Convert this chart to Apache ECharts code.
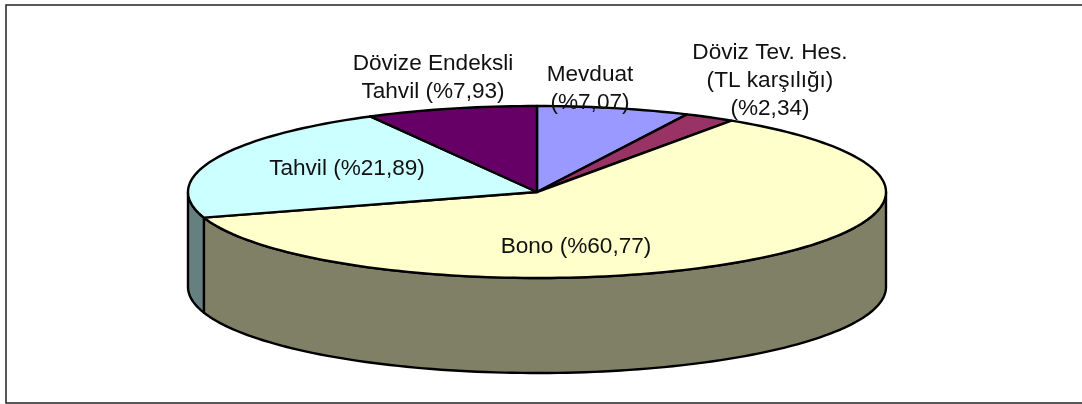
<!DOCTYPE html>
<html>
<head>
<meta charset="utf-8">
<title>Pie</title>
<style>
  html, body { margin: 0; padding: 0; background: #fff; }
  #chart { width: 1082px; height: 404px; }
</style>
<script src="https://cdn.jsdelivr.net/npm/echarts@6/dist/echarts.min.js"></script>
</head>
<body>
<div id="chart"></div>
<script>
// veriler (saat 12 yonunden saat yonunde)
var names = ["Mevduat", "Döviz Tev. Hes.\n(TL karşılığı)", "Bono", "Tahvil", "Dövize Endeksli\nTahvil"];
var shares = [7.07, 2.34, 60.77, 21.89, 7.93];
var topColors = ["#9999FF", "#993366", "#FFFFCC", "#CCFFFF", "#660066"];
var sideColors = ["#4D4D80", "#4D1A33", "#808066", "#668080", "#330033"];

// yazi etiketleri: x, y merkez, etiketin satir kirilimi
var labelPos = [
  [590, 89, "\n"],
  [770, 81, "\n"],
  [576, 247, " "],
  [347, 169, " "],
  [433, 78, " "]
];

var cx = 537, cy = 192, rx = 349, ry = 86, depth = 95;

function point(deg, dy) {
  var a = deg * Math.PI / 180;
  return [cx + rx * Math.sin(a), cy - ry * Math.cos(a) + (dy || 0)];
}

// from..to arasi yay noktalari
function arc(from, to, dy) {
  var pts = [], n = Math.max(2, Math.ceil(Math.abs(to - from) / 1.5));
  for (var i = 0; i <= n; i++) {
    pts.push(point(from + (to - from) * i / n, dy));
  }
  return pts;
}

function renderSlice(params, api) {
  var i = params.dataIndex, before = 0;
  for (var k = 0; k < i; k++) before += shares[k];
  var from = before * 3.6, to = (before + api.value(0)) * 3.6;
  var children = [];

  // yan yuzey sadece on tarafta (90-270 derece) gorunur
  var s = Math.max(from, 90), e = Math.min(to, 270);
  if (e > s) {
    children.push({
      type: "polygon",
      shape: {points: arc(s, e, 0).concat(arc(e, s, depth))},
      style: {fill: sideColors[i], stroke: "#000", lineWidth: 2.4, lineJoin: "round"}
    });
  }
  children.push({
    type: "polygon",
    shape: {points: [[cx, cy]].concat(arc(from, to, 0))},
    style: {fill: topColors[i], stroke: "#000", lineWidth: 2.4, lineJoin: "round"}
  });
  return {type: "group", children: children};
}

function percentText(v) {
  return "(%" + v.toFixed(2).replace(".", ",") + ")";
}

var frame = {
  type: "polyline",
  silent: true,
  shape: {points: [[1082, 5], [6, 5], [6, 403], [1082, 403]]},
  style: {fill: null, stroke: "#222", lineWidth: 1.5}
};

var labels = names.map(function (name, i) {
  return {
    type: "text",
    silent: true,
    z: 100,
    x: labelPos[i][0],
    y: labelPos[i][1],
    style: {
      text: name + labelPos[i][2] + percentText(shares[i]),
      fill: "#111",
      font: '22.6px "Liberation Sans", Arial, sans-serif',
      lineHeight: 28,
      align: "center",
      verticalAlign: "middle"
    }
  };
});

var myChart = echarts.init(document.getElementById("chart"), null, {renderer: "canvas"});
myChart.setOption({
  backgroundColor: "#fff",
  animation: false,
  graphic: [frame].concat(labels),
  series: [{
    type: "custom",
    coordinateSystem: "none",
    silent: true,
    renderItem: renderSlice,
    data: shares.map(function (v) { return [v]; })
  }]
});
</script>
</body>
</html>
